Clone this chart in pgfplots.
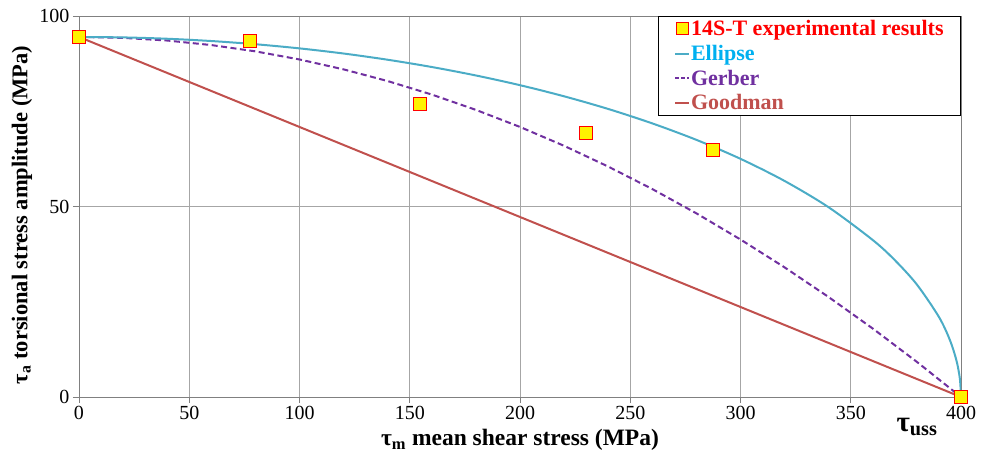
\documentclass[border=0pt]{standalone}
\usepackage{pgfplots}
\pgfplotsset{compat=1.18}
\usepackage{fontspec}
\setmainfont{Liberation Serif}
\definecolor{ellc}{HTML}{4BACC6}
\definecolor{gerc}{HTML}{7030A0}
\definecolor{goodc}{HTML}{C0504D}
\definecolor{elltxt}{HTML}{00B0F0}
\begin{document}
\begin{tikzpicture}
\begin{axis}[
  scale only axis, width=882pt, height=381pt,
  xmin=0, xmax=400, ymin=0, ymax=100,
  xtick={0,50,...,400}, ytick={0,50,100},
  tick pos=left,
  grid=major, major grid style={gray!70, line width=0.6pt},
  axis line style={gray, line width=0.8pt},
  tick style={gray, line width=0.8pt}, tick align=outside, major tick length=6pt,
  /pgf/number format/assume math mode=true,
  ticklabel style={font=\fontsize{20}{22}\selectfont},
  xlabel={\textbf{τ\textsubscript{m} mean shear stress (MPa)}},
  ylabel={\textbf{τ\textsubscript{a} torsional stress amplitude (MPa)}},
  xlabel style={font=\fontsize{23.5}{26}\selectfont, at={(rel axis cs:0.5,0)}, anchor=center, yshift=-43pt},
  ylabel style={font=\fontsize{22.5}{24}\selectfont, at={(rel axis cs:0,0.478)}, anchor=center, yshift=57pt},
  legend cell align=left,
  legend style={at={(rel axis cs:1,1)}, anchor=north east, draw=black, line width=0.8pt,
    font=\bfseries\fontsize{22}{24}\selectfont, row sep=4pt, inner xsep=16pt, inner ysep=2pt,
    nodes={inner xsep=1pt}},
]
\coordinate (ll) at (rel axis cs:0,0);
\coordinate (ur) at (rel axis cs:1,1);
\addlegendimage{legend image code/.code={\draw[fill=yellow, draw=red, line width=0.8pt] (1pt,-6pt) rectangle (13pt,6pt);}}
\addlegendentry{\textcolor{red}{14S-T experimental results}}
\addlegendimage{legend image code/.code={\draw[ellc, line width=2pt] (0pt,0pt) -- (14pt,0pt);}}
\addlegendentry{\textcolor{elltxt}{Ellipse}}
\addlegendimage{legend image code/.code={\draw[gerc, line width=2pt, dash pattern=on 4pt off 2pt] (0pt,0pt) -- (14pt,0pt);}}
\addlegendentry{\textcolor{gerc}{Gerber}}
\addlegendimage{legend image code/.code={\draw[goodc, line width=2pt] (0pt,0pt) -- (14pt,0pt);}}
\addlegendentry{\textcolor{goodc}{Goodman}}

\addplot[forget plot, goodc, line width=2pt] coordinates {(0,94.5) (400,0)};
\addplot[forget plot, gerc, line width=2pt, dash pattern=on 6pt off 3.5pt] coordinates {
(0,94.5) (20,94.26) (40,93.56) (60,92.37) (80,90.72) (100,88.59) (120,85.99) (140,82.92)
(160,79.38) (180,75.36) (200,70.88) (220,65.92) (240,60.48) (260,54.58) (280,48.20)
(300,41.34) (320,34.02) (340,26.22) (360,17.96) (380,9.21) (400,0)};
\addplot[forget plot, ellc, line width=2pt, smooth] coordinates {
(0,94.5) (20,94.38) (40,94.03) (60,93.43) (80,92.59) (100,91.50) (120,90.15) (140,88.52)
(160,86.61) (180,84.39) (200,81.84) (220,78.92) (240,75.60) (260,71.81) (280,67.49)
(300,62.51) (320,56.70) (340,49.78) (360,41.19) (370,35.91) (380,29.51) (390,21.00)
(395,14.89) (398,9.44) (399.5,4.72) (400,0)};
\addplot[forget plot, only marks, mark=square*, mark size=6.5pt, mark options={fill=yellow, draw=red, line width=0.8pt}] coordinates {
(0,94.5) (77.6,93.4) (154.6,76.9) (229.9,69.3) (287.5,64.8) (400,0)};
\end{axis}
\node[font=\bfseries\fontsize{29}{30}\selectfont] at ([shift={(838pt,-30pt)}]ll) {τ\textsubscript{uss}};
\path ([shift={(-79pt,-63pt)}]ll) rectangle ([shift={(20pt,16pt)}]ur);
\end{tikzpicture}
\end{document}
